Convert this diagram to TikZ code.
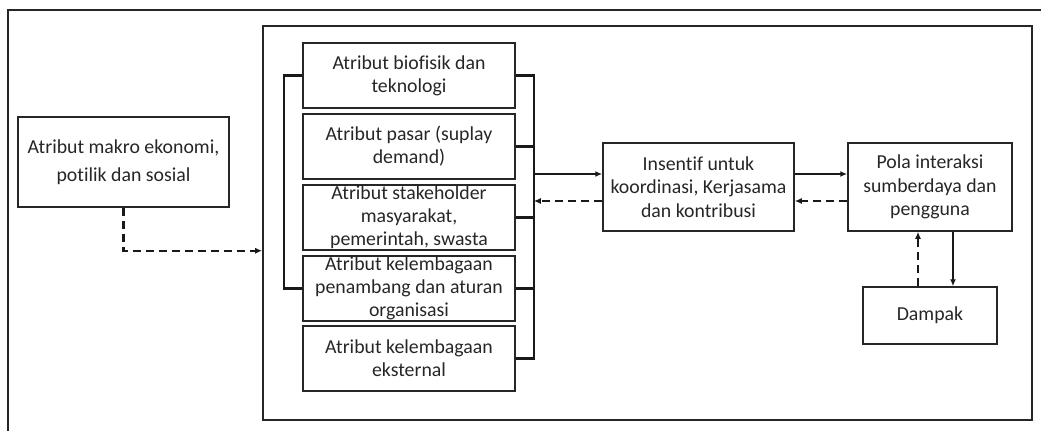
\documentclass[tikz,border=0pt]{standalone}
\usepackage{fontspec}
\setmainfont{Carlito}[RawFeature={-liga;-clig;-calt;-dlig;-rlig}]
\usepackage{tikz}
\usetikzlibrary{calc}
\usetikzlibrary{arrows.meta}

\begin{document}
\begin{tikzpicture}[x=0.5pt,y=-0.5pt]
	\useasboundingbox (0,0) rectangle (1041,430);
	\begin{scope}
	\clip (0,0) rectangle (1041,430);
	\draw[line width=1.2pt,black!85] (8,10) rectangle (1060,450);
	\end{scope}

	\begin{scope}[every node/.style={rectangle,draw=black!85,line width=0.75pt,align=center,inner sep=0pt,text=black!85,font=\fontsize{9.9}{11.6}\selectfont}]
	\node[line width=0.85pt,minimum width=384.5pt,minimum height=197pt] (sistem) at (647.5,223) {};
	\node[minimum width=105.5pt,minimum height=45pt,font=\fontsize{9.9}{14}\selectfont] (makro) at (123.5,162) {Atribut makro ekonomi,\\potilik dan sosial};
	\node[minimum width=106pt,minimum height=32.5pt] (biofisik) at (409,75.5) {Atribut biofisik dan\\teknologi};
	\node[minimum width=106pt,minimum height=32.5pt] (pasar) at (409,146.5) {Atribut pasar (suplay\\demand)};
	\node[minimum width=106pt,minimum height=32.5pt] (stakeholder) at (409,217.5) {Atribut stakeholder\\masyarakat,\\pemerintah, swasta};
	\node[minimum width=106pt,minimum height=32.5pt] (lembaga) at (409,288.5) {Atribut kelembagaan\\penambang dan aturan\\organisasi};
	\node[minimum width=106pt,minimum height=32.5pt] (eksternal) at (409,358.5) {Atribut kelembagaan\\eksternal};
	\node[minimum width=95.5pt,minimum height=44pt] (insentif) at (698.5,187) {Insentif untuk\\koordinasi, Kerjasama\\dan kontribusi};
	\node[minimum width=82pt,minimum height=44pt] (pola) at (930,187) {Pola interaksi\\sumberdaya dan\\pengguna};
	\node[minimum width=67pt,minimum height=28.5pt] (dampak) at (930,315.5) {Dampak};
	\end{scope}

	\begin{scope}[>={Latex[length=3.5pt,width=3pt]},
	every path/.style={draw=black!90,line width=1.1pt},
	dashline/.style={dash pattern=on 4pt off 2.5pt}]
	\draw (biofisik.west) -- ++(-18,0) |- (lembaga.west);
	\draw (biofisik.east) -- ++(18,0) coordinate (rb) |- (eksternal.east);
	\foreach \n in {pasar,stakeholder,lembaga}
		\draw (\n.east) -- (rb |- \n.east);
	\draw [dashline, ->] (makro.south) |- (sistem.west |- stakeholder.south);
	\coordinate (i1) at ($(insentif.west)+(0,-13)$);
	\coordinate (i2) at ($(insentif.west)+(0,14)$);
	\draw [->] (rb |- i1) -- (i1);
	\draw [dashline, ->] (i2) -- (rb |- i2);
	\draw [->] ($(insentif.east)+(0,-13)$) -- ($(pola.west)+(0,-13)$);
	\draw [dashline, ->] ($(pola.west)+(0,14)$) -- ($(insentif.east)+(0,14)$);
	\draw [dashline, ->] ($(dampak.north)+(-12,0)$) -- ($(pola.south)+(-12,0)$);
	\draw [->] ($(pola.south)+(23,0)$) -- ($(dampak.north)+(23,0)$);
	\end{scope}
\end{tikzpicture}
\end{document}
